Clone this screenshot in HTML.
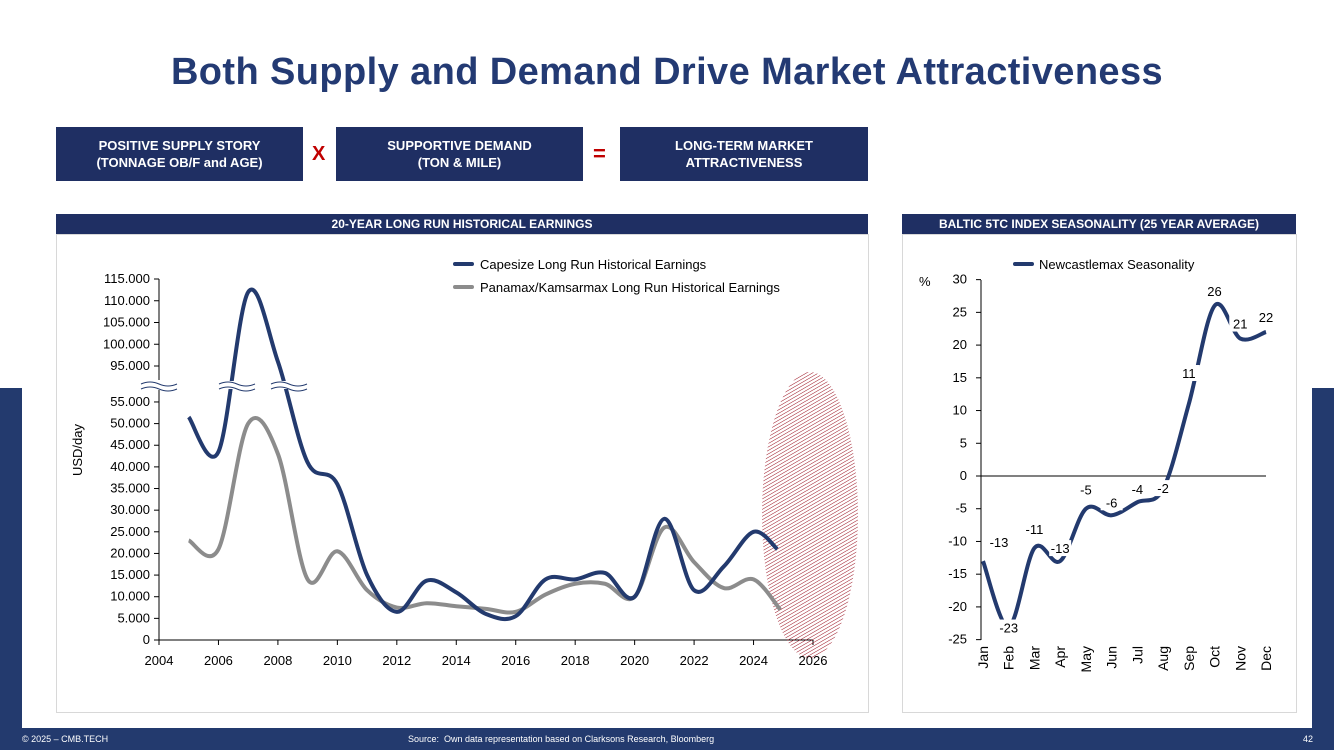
<!DOCTYPE html>
<html><head><meta charset="utf-8">
<style>
body{margin:0;width:1334px;height:750px;overflow:hidden;background:#fff;font-family:"Liberation Sans",sans-serif;position:relative}
.abs{position:absolute}
.box{position:absolute;background:#1f2f63;color:#fff;font-size:13px;font-weight:bold;text-align:center;display:flex;align-items:center;justify-content:center;line-height:17px}
.hdr{position:absolute;background:#1f2f63;color:#fff;font-size:12px;font-weight:bold;text-align:center;line-height:20px;height:20px}
.panel{position:absolute;border:1px solid #d8d8d8;background:#fff}
</style></head><body>
<div class="abs" style="left:0;top:388px;width:22px;height:362px;background:#233a6e"></div>
<div class="abs" style="left:1312px;top:388px;width:22px;height:362px;background:#233a6e"></div>
<div class="abs" style="left:22px;top:25px;width:1290px;height:703px;background:#fff"></div>
<div class="abs" style="left:0;width:1334px;top:51px;text-align:center;font-size:38px;letter-spacing:0.4px;font-weight:bold;color:#233a73">Both Supply and Demand Drive Market Attractiveness</div>
<div class="box" style="left:56px;top:127px;width:247px;height:54px">POSITIVE SUPPLY STORY<br>(TONNAGE OB/F and AGE)</div>
<div class="abs" style="left:312px;top:143px;font-size:20px;font-weight:bold;color:#c00000">X</div>
<div class="box" style="left:336px;top:127px;width:247px;height:54px">SUPPORTIVE DEMAND<br>(TON &amp; MILE)</div>
<div class="abs" style="left:593px;top:141px;font-size:22px;font-weight:bold;color:#c00000">=</div>
<div class="box" style="left:620px;top:127px;width:248px;height:54px">LONG-TERM MARKET<br>ATTRACTIVENESS</div>
<div class="hdr" style="left:56px;top:214px;width:812px">20-YEAR LONG RUN HISTORICAL EARNINGS</div>
<div class="hdr" style="left:902px;top:214px;width:394px">BALTIC 5TC INDEX SEASONALITY (25 YEAR AVERAGE)</div>
<div class="panel" style="left:56px;top:234px;width:811px;height:477px"></div>
<div class="panel" style="left:902px;top:234px;width:393px;height:477px"></div>
<svg class="abs" style="left:0;top:0" width="1334" height="750">
<defs><pattern id="hatch" width="3" height="3" patternUnits="userSpaceOnUse" patternTransform="rotate(60)"><line x1="0" y1="0" x2="0" y2="3" stroke="#9a1020" stroke-width="1"/></pattern></defs>
<g id="L" font-size="13" fill="#000"></g>
<g id="R" font-size="13" fill="#000"></g>
</svg>
<div class="abs" style="left:0;top:728px;width:1334px;height:22px;background:#233a6e;color:#fff;font-size:9px;line-height:22px">
<span class="abs" style="left:22px">© 2025 – CMB.TECH</span>
<span class="abs" style="left:408px">Source:&nbsp; Own data representation based on Clarksons Research, Bloomberg</span>
<span class="abs" style="left:1303px">42</span></div>
<script>
const years=[2005,2006,2007,2008,2009,2010,2011,2012,2013,2014,2015,2016,2017,2018,2019,2020,2021,2022,2023,2024,2024.8];
const capesize=[51500,43500,112000,96000,41000,36000,15000,6500,13700,11000,6000,5500,14000,14000,15500,10000,28000,11500,17000,25000,21000];
const panamaxYears=[2005,2006,2007,2008,2009,2010,2011,2012,2013,2014,2015,2016,2017,2018,2019,2020,2021,2022,2023,2024,2024.9];
const panamax=[23000,21000,50000,43000,14000,20500,11500,7500,8500,7800,7200,6500,10500,13000,13000,10000,26000,18000,12000,14000,7000];
const lowTicks=[0,5000,10000,15000,20000,25000,30000,35000,40000,45000,50000,55000];
const highTicks=[95000,100000,105000,110000,115000];
const xTicks=[2004,2006,2008,2010,2012,2014,2016,2018,2020,2022,2024,2026];
const months=["Jan","Feb","Mar","Apr","May","Jun","Jul","Aug","Sep","Oct","Nov","Dec"];
const season=[-13,-23,-11,-13,-5,-6,-4,-2,11,26,21,22];
const sTicks=[30,25,20,15,10,5,0,-5,-10,-15,-20,-25];
const NS="http://www.w3.org/2000/svg";
function mk(p,t,a){const e=document.createElementNS(NS,t);for(const k in a)e.setAttribute(k,a[k]);p.appendChild(e);return e;}
function fmtK(v){if(v===0)return "0";const k=v/1000;return k+".000";}
function smooth(pts){let d="M"+pts[0][0]+","+pts[0][1];for(let i=0;i<pts.length-1;i++){const p0=pts[i-1]||pts[i],p1=pts[i],p2=pts[i+1],p3=pts[i+2]||p2;const c1=[p1[0]+(p2[0]-p0[0])/6,p1[1]+(p2[1]-p0[1])/6],c2=[p2[0]-(p3[0]-p1[0])/6,p2[1]-(p3[1]-p1[1])/6];d+=`C${c1[0]},${c1[1]} ${c2[0]},${c2[1]} ${p2[0]},${p2[1]}`;}return d;}
const L=document.getElementById('L');
const xL=y=>159+(y-2004)*(813-159)/22;
const yL=v=>v>=70000?366-(v-95000)/5000*21.75:640-v/5000*21.64;
let e;
e=mk(L,'text',{x:480,y:269});e.textContent="Capesize Long Run Historical Earnings";

e=mk(L,'line',{x1:455,y1:264,x2:472,y2:264,stroke:'#233a6e','stroke-width':4,'stroke-linecap':'round'});
e=mk(L,'text',{x:480,y:292});e.textContent="Panamax/Kamsarmax Long Run Historical Earnings";

e=mk(L,'line',{x1:455,y1:287,x2:472,y2:287,stroke:'#8c8c8c','stroke-width':4,'stroke-linecap':'round'});
mk(L,'line',{x1:159,y1:279,x2:159,y2:380,stroke:'#000'});
mk(L,'line',{x1:159,y1:390,x2:159,y2:640,stroke:'#000'});
mk(L,'line',{x1:159,y1:640,x2:813,y2:640,stroke:'#000'});
lowTicks.forEach(v=>{const y=yL(v);mk(L,'line',{x1:154,y1:y,x2:159,y2:y,stroke:'#000'});e=mk(L,'text',{x:150,y:y+4,'text-anchor':'end'});e.textContent=fmtK(v);});
highTicks.forEach(v=>{const y=yL(v);mk(L,'line',{x1:154,y1:y,x2:159,y2:y,stroke:'#000'});e=mk(L,'text',{x:150,y:y+4,'text-anchor':'end'});e.textContent=fmtK(v);});
xTicks.forEach(v=>{const x=xL(v);mk(L,'line',{x1:x,y1:640,x2:x,y2:645,stroke:'#000'});e=mk(L,'text',{x:x,y:665,'text-anchor':'middle'});e.textContent=v;});
e=mk(L,'text',{x:82,y:450,transform:'rotate(-90 82 450)','text-anchor':'middle'});e.textContent="USD/day";

e=mk(L,'ellipse',{cx:810,cy:515,rx:48,ry:143,fill:'url(#hatch)'});

e=mk(L,'path',{d:smooth(panamaxYears.map((y,i)=>[xL(y),yL(panamax[i])])),fill:'none',stroke:'#8c8c8c','stroke-width':4});

e=mk(L,'path',{d:smooth(years.map((y,i)=>[xL(y),yL(capesize[i])])),fill:'none',stroke:'#233a6e','stroke-width':4});

[[159,385],[237,385],[289,385]].forEach(([x,y])=>{mk(L,'rect',{x:x-20,y:y-4,width:40,height:8,fill:'#fff'});
mk(L,'path',{d:`M${x-18},${y-1} q9,-4 18,0 t18,0`,fill:'none',stroke:'#233a6e','stroke-width':1});
mk(L,'path',{d:`M${x-18},${y+4} q9,-4 18,0 t18,0`,fill:'none',stroke:'#233a6e','stroke-width':1});});
const R=document.getElementById('R');
const xR=i=>983+i*(1266-983)/11;
const yR=v=>476-v*(640-280)/55;
e=mk(R,'line',{x1:1015,y1:264,x2:1032,y2:264,stroke:'#233a6e','stroke-width':4,'stroke-linecap':'round'});
e=mk(R,'text',{x:1039,y:269});e.textContent="Newcastlemax Seasonality";

e=mk(R,'text',{x:919,y:286});e.textContent="%";
mk(R,'line',{x1:981,y1:280,x2:981,y2:640,stroke:'#000'});
mk(R,'line',{x1:981,y1:476,x2:1266,y2:476,stroke:'#000'});
sTicks.forEach(v=>{const y=yR(v);mk(R,'line',{x1:976,y1:y,x2:981,y2:y,stroke:'#000'});e=mk(R,'text',{x:967,y:y+4,'text-anchor':'end'});e.textContent=v;});
months.forEach((m,i)=>{const x=xR(i)+5;e=mk(R,'text',{x:x,y:646,transform:`rotate(-90 ${x} 646)`,'text-anchor':'end','font-size':14});e.textContent=m;});
e=mk(R,'path',{d:smooth(season.map((v,i)=>[xR(i),yR(v)])),fill:'none',stroke:'#233a6e','stroke-width':4});

const off=[[16,-18],[0,2],[0,-18],[0,-12],[0,-18],[0,-12],[0,-12],[0,0],[0,-30],[0,-14],[0,-14],[0,-14]];
season.forEach((v,i)=>{const x=xR(i)+off[i][0],y=yR(v)+off[i][1];mk(R,'rect',{x:x-11,y:y-9,width:22,height:16,fill:'#fff'});e=mk(R,'text',{x:x,y:y+4,'text-anchor':'middle'});e.textContent=v;});
</script>
</body></html>
